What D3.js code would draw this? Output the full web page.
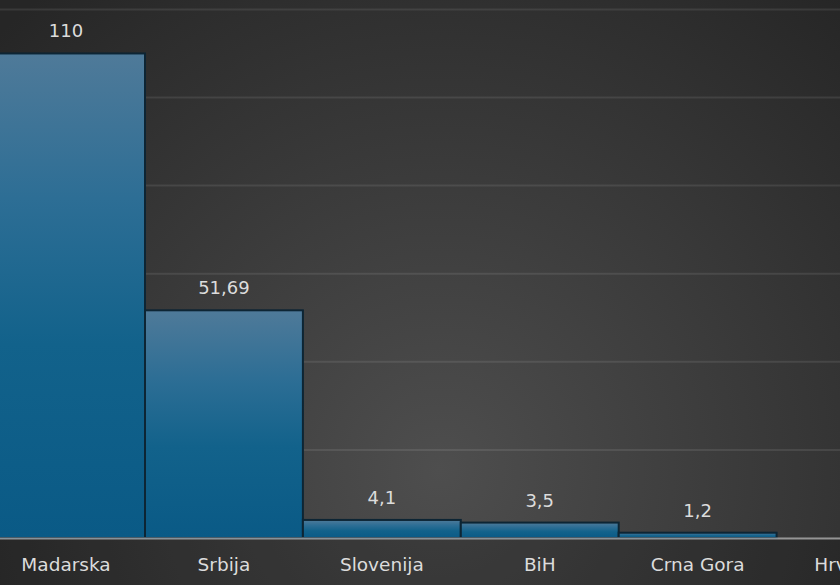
<!DOCTYPE html>
<html>
<head>
<meta charset="utf-8">
<script src="https://cdn.jsdelivr.net/npm/d3@7"></script>
<style>
  html, body { margin: 0; padding: 0; background: #2b2b2b; }
  svg { display: block; }
  text { font-family: "DejaVu Sans", sans-serif; fill: #dcdcdc; }
</style>
</head>
<body>
<div id="chart"></div>
<script>
const categories = ["Madarska", "Srbija", "Slovenija", "BiH", "Crna Gora", "Hrvatska"];
const values = [110, 51.69, 4.1, 3.5, 1.2, 0];
const gridTicks = [20, 40, 60, 80, 100, 120];

(function() {
  const width = 840;
  const height = 585;
  const baseY = 538;

  // chart is cropped on the left and right, so the band range runs past the edges
  const x = d3.scaleBand().domain(categories).range([-12.9, 934.5]).padding(0);
  const y = d3.scaleLinear().domain([0, 120]).range([baseY, baseY - 120 * 4.405]);

  const fmt = d3.formatLocale({ decimal: ",", thousands: ".", grouping: [3], currency: ["", ""] }).format("~r");

  const svg = d3.select("#chart")
    .append("svg")
      .attr("width", width)
      .attr("height", height);

  const defs = svg.append("defs");

  const bg = defs.append("radialGradient")
    .attr("id", "bg")
    .attr("gradientUnits", "userSpaceOnUse")
    .attr("cx", 440).attr("cy", 470).attr("r", 620);
  bg.append("stop").attr("offset", "0%").attr("stop-color", "#4e4e4e");
  bg.append("stop").attr("offset", "100%").attr("stop-color", "#262626");

  const barGrad = defs.append("linearGradient")
    .attr("id", "bar")
    .attr("x1", 0).attr("y1", 0).attr("x2", 0).attr("y2", 1);
  barGrad.append("stop").attr("offset", "0%").attr("stop-color", "#4f7a99");
  barGrad.append("stop").attr("offset", "30%").attr("stop-color", "#2d6e95");
  barGrad.append("stop").attr("offset", "60%").attr("stop-color", "#12628b");
  barGrad.append("stop").attr("offset", "100%").attr("stop-color", "#0a5a86");

  svg.append("rect")
    .attr("width", width)
    .attr("height", height)
    .attr("fill", "url(#bg)");

  // darker band under the axis
  svg.append("rect")
    .attr("y", baseY)
    .attr("width", width)
    .attr("height", height - baseY)
    .attr("fill", "#000")
    .attr("opacity", 0.2);

  svg.append("g")
    .attr("class", "grid")
    .selectAll("line")
    .data(gridTicks)
    .enter().append("line")
      .attr("x1", 0)
      .attr("x2", width)
      .attr("y1", d => y(d))
      .attr("y2", d => y(d))
      .attr("stroke", "#fff")
      .attr("stroke-opacity", 0.09)
      .attr("stroke-width", 2);

  svg.selectAll(".bar")
    .data(categories)
    .enter().append("rect")
      .attr("class", "bar")
      .attr("x", d => x(d))
      .attr("y", (d, i) => y(values[i]))
      .attr("width", x.bandwidth())
      .attr("height", (d, i) => baseY - y(values[i]))
      .attr("fill", "url(#bar)")
      .attr("stroke", "#0d2534")
      .attr("stroke-width", 2)
      .style("display", (d, i) => values[i] > 0 ? null : "none");

  svg.append("line")
    .attr("x1", 0)
    .attr("x2", width)
    .attr("y1", baseY + 0.5)
    .attr("y2", baseY + 0.5)
    .attr("stroke", "#fff")
    .attr("stroke-opacity", 0.5)
    .attr("stroke-width", 2);

  svg.selectAll(".value")
    .data(categories)
    .enter().append("text")
      .attr("class", "value")
      .attr("x", d => x(d) + x.bandwidth() / 2)
      .attr("y", (d, i) => y(values[i]) - 16)
      .style("text-anchor", "middle")
      .style("font-size", "18px")
      .text((d, i) => values[i] > 0 ? fmt(values[i]) : "");

  // the last label is cut by the right edge, as in the original
  svg.selectAll(".cat")
    .data(categories)
    .enter().append("text")
      .attr("class", "cat")
      .attr("x", d => x(d) + x.bandwidth() / 2)
      .attr("y", 571)
      .style("text-anchor", "middle")
      .style("font-size", "18.5px")
      .text(d => d);
})();
</script>
</body>
</html>
